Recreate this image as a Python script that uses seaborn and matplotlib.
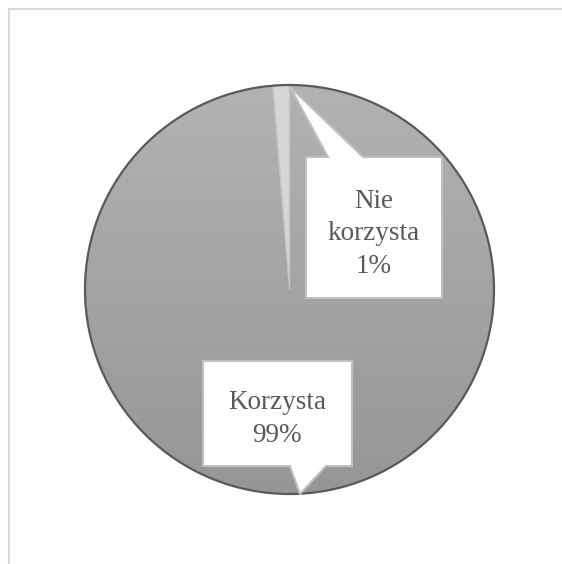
import numpy as np
import matplotlib
matplotlib.use("Agg")
import matplotlib.pyplot as plt
from matplotlib.patches import Polygon, Rectangle, Circle
import seaborn as sns

categories = ["Korzysta", "Nie korzysta"]
shares = [98.7, 1.3]
label_texts = ["Korzysta\n99%", "Nie\nkorzysta\n1%"]

sns.set_theme(style="white")
plt.rcParams["font.family"] = ["Liberation Serif", "DejaVu Serif"]

W, H = 562, 564
fig = plt.figure(figsize=(W / 100, H / 100), dpi=100)
ax = fig.add_axes([0, 0, 1, 1])

cx, cy, r = 289.5, H - 289.5, 204.5

wedges, _ = ax.pie(shares, startangle=90, counterclock=False, center=(cx, cy),
                   radius=r, colors=["#a8a8a8", "#d6d6d6"],
                   wedgeprops=dict(edgecolor="#c4c4c4", linewidth=1.0), frame=True)
ax.set_xlim(0, W)
ax.set_ylim(0, H)
ax.set_aspect("equal")
ax.axis("off")

# vertical gradient on the big slice
grad = np.linspace(0, 1, 256).reshape(-1, 1)
cmap = matplotlib.colors.LinearSegmentedColormap.from_list("g", ["#b2b2b2", "#969696"])
im = ax.imshow(grad, cmap=cmap, extent=(cx - r, cx + r, cy - r, cy + r),
               origin="upper", aspect="auto", zorder=1.5)
im.set_clip_path(wedges[0])
wedges[1].set_zorder(2)
ax.add_patch(Circle((cx, cy), r, fill=False, edgecolor="#5a5a5a", linewidth=1.6, zorder=3))

# figure frame
ax.add_patch(Rectangle((9, -10), W + 20, H - 9 + 10, fill=False,
                       edgecolor="#d9d9d9", linewidth=1.5, zorder=0))


def callout(x0, x1, ytop, ybot, base, tip, side, text, tx, ty):
    ytop, ybot = H - ytop, H - ybot
    tipx, tipy = tip[0], H - tip[1]
    if side == "top":
        pts = [(x0, ytop), (base[0], ytop), (tipx, tipy), (base[1], ytop),
               (x1, ytop), (x1, ybot), (x0, ybot)]
    else:
        pts = [(x0, ytop), (x1, ytop), (x1, ybot), (base[1], ybot),
               (tipx, tipy), (base[0], ybot), (x0, ybot)]
    ax.add_patch(Polygon(pts, closed=True, facecolor="white", edgecolor="#c0c0c0",
                         linewidth=1.5, zorder=4))
    ax.text(tx, H - ty, text, ha="center", va="center", fontsize=19.5,
            color="#595959", linespacing=1.42, zorder=5)


callout(306, 442, 157, 298, (328, 363), (290, 87), "top", label_texts[1], 374, 234)
callout(203, 352, 361, 466, (290, 326), (300, 494), "bottom", label_texts[0], 277, 419)

fig.savefig("out.png", dpi=100)
